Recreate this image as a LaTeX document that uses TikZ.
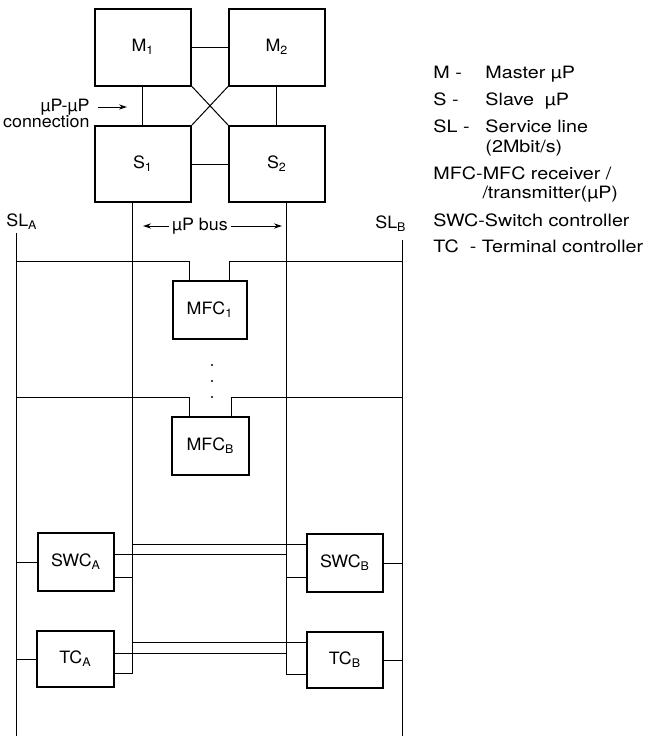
\documentclass[tikz,border=0pt]{standalone}
\usepackage{fontspec}
\setmainfont{TeX Gyre Heros}[FakeStretch=1.05]
\newfontfamily\legendfont{TeX Gyre Heros}[FakeStretch=1.16]
\usetikzlibrary{arrows.meta,positioning,calc}

\begin{document}
\begin{tikzpicture}[x=0.5pt,y=-0.5pt,line width=0.5pt,
  font=\fontsize{8.5}{10}\selectfont,
  box/.style={draw,line width=1pt,inner sep=0pt,minimum width=#1},
  arr/.style={-{Stealth[length=4pt,width=2.6pt]}},
  legend/.style={anchor=base west,inner sep=0pt,font=\legendfont\fontsize{8.5}{10}\selectfont}
]
  \useasboundingbox (0,0) rectangle (650,736);

  % processors
  \node[box=48pt, minimum height=38.5pt] (m1) at (143,47) {M\textsubscript{1}};
  \node[box=48pt, minimum height=38.5pt] (m2) at (277,47) {M\textsubscript{2}};
  \node[box=48pt, minimum height=38pt] (s1) at (143,164) {S\textsubscript{1}};
  \node[box=48pt, minimum height=38pt] (s2) at (277,164) {S\textsubscript{2}};
  \draw (m1) -- (m2);
  \draw (s1) -- (s2);
  \draw (m1) -- (s1);
  \draw (m2) -- (s2);
  \draw (m1.south east) -- (s2.north west);
  \draw (m2.south west) -- (s1.north east);

  \node[anchor=east, inner sep=0pt] (conn1) at (90,107) {µP-µP};
  \node[anchor=east, inner sep=0pt] (conn2) at (90,122) {connection};
  \coordinate (connTip) at (127,107);
  \draw[arr] ([xshift=4pt]conn1.east) -- (connTip);

  % bus
  \coordinate (busL) at ($(s1.south)+(-10,0)$);
  \coordinate (busR) at ($(s2.south)+(10,0)$);
  \node[inner sep=1.5pt] (bus) at (200,226) {µP bus};
  \draw[arr] (bus.west) -- ([xshift=5pt]busL |- bus.west);
  \draw[arr] (bus.east) -- ([xshift=-2.5pt]busR |- bus.east);

  % service lines
  \node (slA) at (22,222) {SL\textsubscript{A}};
  \node (slB) at (391,224) {SL\textsubscript{B}};
  \coordinate (slAtop) at (17,233);
  \coordinate (slAbot) at (17,736);
  \coordinate (slBtop) at (403,240);
  \coordinate (slBbot) at (403,736);
  \draw (slAtop) -- (slAbot);
  \draw (slBtop) -- (slBbot);

  % MFC units
  \node[box=37pt, minimum height=29pt] (mfc1) at (210,310) {MFC\textsubscript{1}};
  \node[box=38.5pt, minimum height=29pt] (mfcB) at (210.5,446) {MFC\textsubscript{B}};
  \draw (slAtop |- 0,261) -| ([xshift=-10pt]mfc1.north);
  \draw ([xshift=10pt]mfc1.north) |- (slBtop |- 0,261);
  \draw (slAtop |- 0,397) -| ([xshift=-10.5pt]mfcB.north);
  \draw ([xshift=10.5pt]mfcB.north) |- (slBtop |- 0,397);
  \foreach \y in {365,381,397}
    \fill (212,\y) circle (0.6pt);

  % controllers
  \node[box=38pt, minimum height=29pt] (swcA) at (76,562) {SWC\textsubscript{A}};
  \node[box=38pt, minimum height=29pt] (swcB) at (345,563) {SWC\textsubscript{B}};
  \node[box=38.5pt, minimum height=28pt] (tcA) at (75.5,659) {TC\textsubscript{A}};
  \node[box=38pt, minimum height=28pt] (tcB) at (345,660) {TC\textsubscript{B}};
  \draw (slAtop |- swcA) -- (swcA);
  \draw (swcB) -- (slBtop |- swcB);
  \draw (slAtop |- tcA) -- (tcA);
  \draw (tcB) -- (slBtop |- tcB);

  \draw ([yshift=4pt]swcA.east) coordinate (swcAup) -- (swcAup -| busR);
  \draw ([yshift=-7.5pt]swcA.east) coordinate (swcAlo) -- (swcAlo -| busL);
  \draw ([yshift=9.5pt]swcB.west) coordinate (swcBup) -- (swcBup -| busL);
  \draw ([yshift=-7pt]swcB.west) coordinate (swcBlo) -- (swcBlo -| busR);
  \draw ([yshift=3pt]tcA.east) coordinate (tcAup) -- (tcAup -| busR);
  \draw ([yshift=9pt]tcB.west) coordinate (tcBup) -- (tcBup -| busL);
  \coordinate (tcAlo) at ([yshift=-7pt]tcA.east);
  \coordinate (tcBlo) at ([yshift=-7pt]tcB.west);
  \draw (busL) -- (busL |- tcAlo) -- (tcAlo);
  \draw (busR) -- (busR |- tcBlo) -- (tcBlo);

  % legend
  \node[legend] (kM) at (433,78) {M -};
  \node[legend] (dM) at (485,78) {Master µP};
  \node[legend] (kS) at (433,105) {S -};
  \node[legend] (dS) at (485,105) {Slave\ \ µP};
  \node[legend] (kSL) at (433,132) {SL -};
  \node[legend] (dSL) at (485,132) {Service line};
  \node[legend] (dSL2) at (485,152) {(2Mbit/s)};
  \node[legend] (kMFC) at (433,179) {MFC-MFC receiver /};
  \node[legend] (dMFC) at (482,198) {/transmitter(µP)};
  \node[legend] (kSWC) at (433,226) {SWC-Switch controller};
  \node[legend] (kTC) at (433,252) {TC\ \ - Terminal controller};
\end{tikzpicture}
\end{document}
